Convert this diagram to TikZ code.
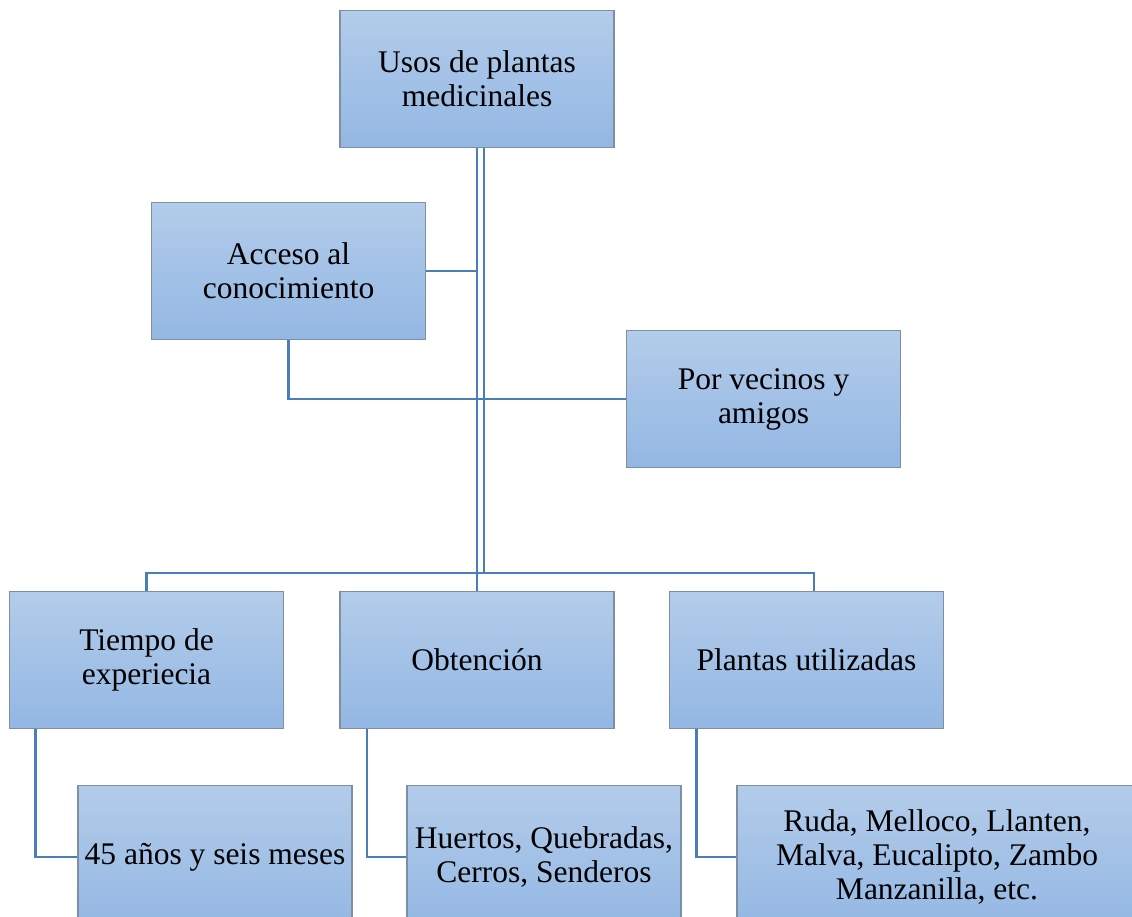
\documentclass[tikz,border=0pt]{standalone}
\usepackage{fontspec}
\setmainfont{Liberation Serif}
\usetikzlibrary{calc}
\definecolor{linkblue}{HTML}{4A7EBB}
\definecolor{boxtop}{HTML}{B3CCEA}
\definecolor{boxbot}{HTML}{93B7E3}
\definecolor{boxedge}{HTML}{7F8FA3}
\tikzset{
  box/.style={rectangle, top color=boxtop, bottom color=boxbot, draw=boxedge,
    line width=1.8pt, minimum width=274pt, minimum height=137pt, inner sep=2pt,
    align=center, font=\fontsize{31.5}{34}\selectfont},
  leafbox/.style={box, minimum height=143pt},
  link/.style={draw=linkblue, line width=2.6pt}
}
\begin{document}
\begin{tikzpicture}[x=1pt,y=-1pt]
\useasboundingbox (0,0) rectangle (1132,917);
\node[box] (root) at (477,79) {Usos de plantas\\medicinales};
\node[box] (acc) at (288.5,271) {Acceso al\\conocimiento};
\node[box] (vec) at (763.5,399) {Por vecinos y\\amigos};
\node[box] (tiempo) at (146.5,660) {Tiempo de\\experiecia};
\node[box] (obt) at (477,660) {Obtención};
\node[box] (plantas) at (806.5,660) {Plantas utilizadas};
\node[leafbox] (anios) at (215,857) {45 años y seis meses};
\node[leafbox] (huertos) at (544,857) {Huertos, Quebradas,\\Cerros, Senderos};
\node[leafbox, minimum width=400pt] (ruda) at (937,857) {Ruda, Melloco, Llanten,\\Malva, Eucalipto, Zambo\\Manzanilla, etc.};
\coordinate (bus) at (484,573);
\draw[link] (root.south) |- (acc.east);
\draw[link] (root.south) -- (obt.north);
\draw[link] ($(root.south)+(7,0)$) -- (bus);
\draw[link] (tiempo.north) |- (bus) -| ($(plantas.north)+(7.5,0)$);
\draw[link] (acc.south) |- (vec.west);
\draw[link] ($(tiempo.south west)+(27,0)$) |- (anios.west);
\draw[link] ($(obt.south west)+(28,0)$) |- (huertos.west);
\draw[link] ($(plantas.south west)+(28,0)$) |- (ruda.west);
\end{tikzpicture}
\end{document}
